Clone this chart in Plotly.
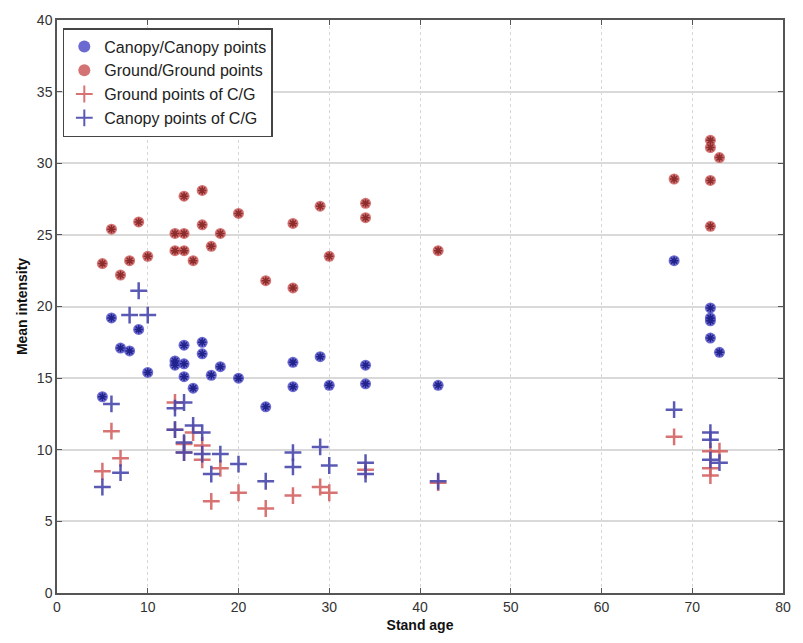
import plotly.graph_objects as go

# Canopy/Canopy points (mean intensity per stand)
cc_age = [5, 6, 7, 8, 9, 10, 13, 13, 14, 14, 14, 15, 16, 16, 17, 18, 20, 23,
          26, 26, 29, 30, 34, 34, 42, 68, 72, 72, 72, 72, 73]
cc_int = [13.7, 19.2, 17.1, 16.9, 18.4, 15.4, 16.2, 15.9, 17.3, 16.0, 15.1, 14.3,
          17.5, 16.7, 15.2, 15.8, 15.0, 13.0, 16.1, 14.4, 16.5, 14.5, 15.9, 14.6,
          14.5, 23.2, 19.9, 19.2, 19.0, 17.8, 16.8]

# Ground/Ground points
gg_age = [5, 6, 7, 8, 9, 10, 13, 13, 14, 14, 14, 15, 16, 16, 17, 18, 20, 23,
          26, 26, 29, 30, 34, 34, 42, 68, 72, 72, 72, 72, 73]
gg_int = [23.0, 25.4, 22.2, 23.2, 25.9, 23.5, 25.1, 23.9, 27.7, 25.1, 23.9, 23.2,
          28.1, 25.7, 24.2, 25.1, 26.5, 21.8, 25.8, 21.3, 27.0, 23.5, 27.2, 26.2,
          23.9, 28.9, 31.6, 31.1, 28.8, 25.6, 30.4]

# Ground points of C/G
gcg_age = [5, 6, 7, 13, 13, 14, 14, 15, 16, 16, 17, 18, 20, 23, 26, 29, 30,
           34, 42, 68, 72, 72, 72, 73]
gcg_int = [8.5, 11.3, 9.4, 13.3, 11.4, 9.8, 10.4, 11.2, 10.3, 9.3, 6.4, 8.7, 7.0,
           5.9, 6.8, 7.4, 7.0, 8.6, 7.7, 10.9, 9.9, 8.7, 8.2, 9.9]

# Canopy points of C/G
ccg_age = [5, 6, 7, 8, 9, 10, 13, 13, 14, 14, 14, 15, 16, 16, 17, 18, 20, 23,
           26, 26, 29, 30, 34, 34, 42, 68, 72, 72, 72, 73]
ccg_int = [7.4, 13.2, 8.4, 19.4, 21.1, 19.4, 12.9, 11.4, 13.3, 10.5, 9.8, 11.7,
           11.2, 9.7, 8.3, 9.7, 9.0, 7.8, 9.8, 8.8, 10.2, 8.9, 9.1, 8.3, 7.8,
           12.8, 11.2, 10.7, 9.3, 9.1]

x_ticks = list(range(0, 81, 10))
y_ticks = list(range(0, 41, 5))

BLUE_DOT = "rgba(80,80,200,0.85)"
BLUE_CORE = "#22228c"
RED_DOT = "rgba(205,90,90,0.85)"
RED_CORE = "#8c2c2c"
RED_PLUS = "rgba(212,100,100,0.9)"
BLUE_PLUS = "rgba(72,72,172,0.9)"

fig = go.Figure()

fig.add_trace(go.Scatter(
    x=cc_age, y=cc_int, mode="markers", name="Canopy/Canopy points",
    marker=dict(symbol="circle", size=11, color=BLUE_DOT, line=dict(width=0)),
))
fig.add_trace(go.Scatter(
    x=cc_age, y=cc_int, mode="markers", showlegend=False, hoverinfo="skip",
    marker=dict(symbol="asterisk-open", size=7, color=BLUE_CORE,
                line=dict(width=1.5, color=BLUE_CORE)),
))
fig.add_trace(go.Scatter(
    x=gg_age, y=gg_int, mode="markers", name="Ground/Ground points",
    marker=dict(symbol="circle", size=11, color=RED_DOT, line=dict(width=0)),
))
fig.add_trace(go.Scatter(
    x=gg_age, y=gg_int, mode="markers", showlegend=False, hoverinfo="skip",
    marker=dict(symbol="asterisk-open", size=7, color=RED_CORE,
                line=dict(width=1.5, color=RED_CORE)),
))
fig.add_trace(go.Scatter(
    x=gcg_age, y=gcg_int, mode="markers", name="Ground points of C/G",
    marker=dict(symbol="cross-thin-open", size=12, color=RED_PLUS,
                line=dict(width=2.5, color=RED_PLUS)),
))
fig.add_trace(go.Scatter(
    x=ccg_age, y=ccg_int, mode="markers", name="Canopy points of C/G",
    marker=dict(symbol="cross-thin-open", size=12, color=BLUE_PLUS,
                line=dict(width=2.5, color=BLUE_PLUS)),
))

axis_font = dict(family="Liberation Sans, Arial, sans-serif", size=14, color="#333333")
title_font = dict(family="Liberation Sans, Arial, sans-serif", size=14, color="#111111")

fig.update_layout(
    width=803, height=643,
    margin=dict(l=57, r=16, t=15, b=48),
    paper_bgcolor="white", plot_bgcolor="white",
    showlegend=True,
    legend=dict(
        x=0.008, y=0.986, xanchor="left", yanchor="top",
        bgcolor="white", bordercolor="#444444", borderwidth=1.5,
        font=dict(family="Liberation Sans, Arial, sans-serif", size=16, color="#222222"),
        tracegroupgap=0, itemsizing="constant",
    ),
    xaxis=dict(
        range=[0, 80], tickvals=x_ticks, ticktext=[str(v) for v in x_ticks],
        showgrid=True, gridcolor="#d6d6d6", gridwidth=1.3, griddash="dot",
        zeroline=False, showline=True, linecolor="#555555", linewidth=1.5,
        mirror="ticks", ticks="inside", ticklen=5, tickcolor="#555555",
        tickfont=axis_font,
        title=dict(text="<b>Stand age</b>", font=title_font, standoff=7),
    ),
    yaxis=dict(
        range=[0, 40], tickvals=y_ticks, ticktext=[str(v) for v in y_ticks],
        showgrid=True, gridcolor="#d9d9d9", gridwidth=1.5,
        zeroline=False, showline=True, linecolor="#555555", linewidth=1.5,
        mirror="ticks", ticks="inside", ticklen=5, tickcolor="#555555",
        tickfont=axis_font,
        title=dict(text="<b>Mean intensity</b>", font=title_font, standoff=6),
    ),
)

fig.write_html("out.html")
